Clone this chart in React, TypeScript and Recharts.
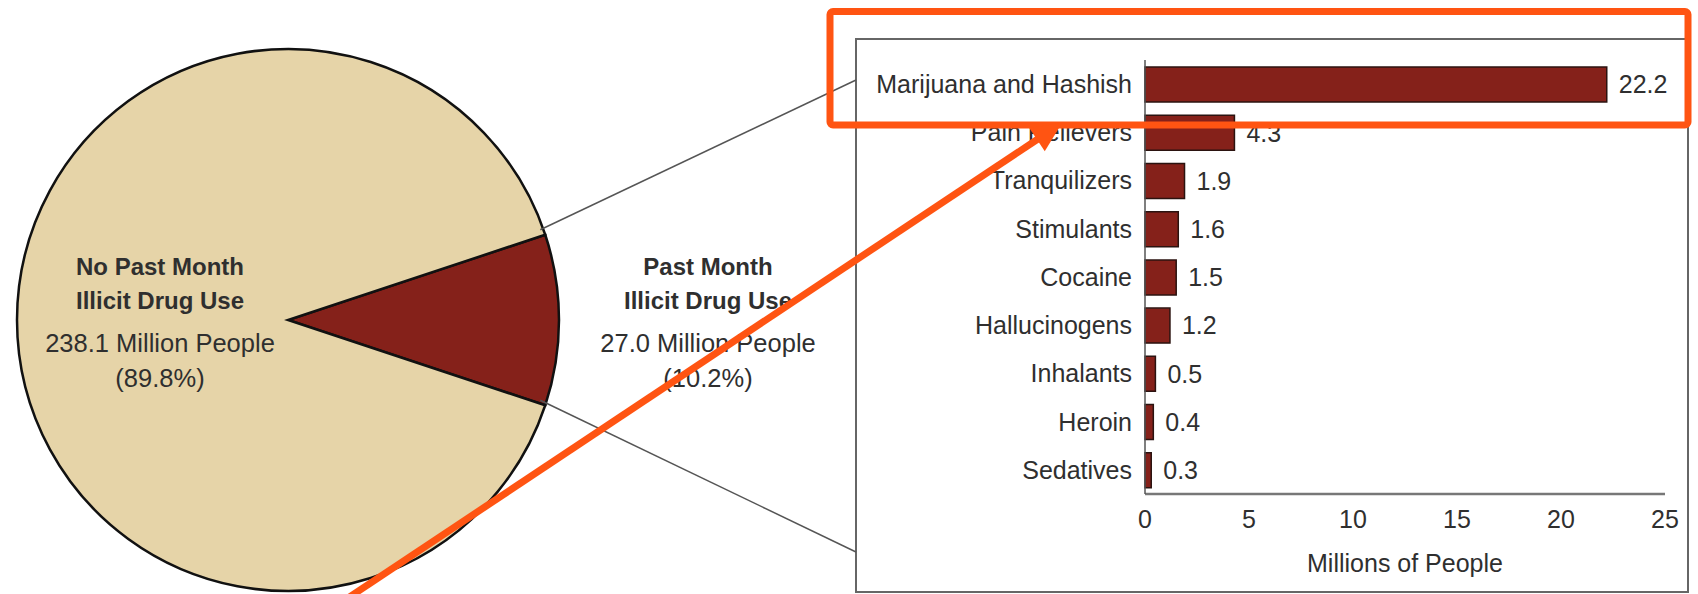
import { PieChart, Pie, Cell, BarChart, Bar, XAxis, YAxis, LabelList } from "recharts";

const pieNames = ["Past Month Illicit Drug Use", "No Past Month Illicit Drug Use"];
const pieTitleLines = [
  ["Past Month", "Illicit Drug Use"],
  ["No Past Month", "Illicit Drug Use"],
];
const pieValues = [27.0, 238.1];
const pieColors = ["#85211a", "#e6d4a8"];

const drugs = [
  "Marijuana and Hashish",
  "Pain Relievers",
  "Tranquilizers",
  "Stimulants",
  "Cocaine",
  "Hallucinogens",
  "Inhalants",
  "Heroin",
  "Sedatives",
];
const drugUsers = [22.2, 4.3, 1.9, 1.6, 1.5, 1.2, 0.5, 0.4, 0.3];
const xTicks = [0, 5, 10, 15, 20, 25];

const FONT = "'Liberation Sans', Arial, sans-serif";
const TEXT = "#2f2f2f";
const ORANGE = "#ff5412";
const FS = 25;

const PIE_CX = 283;
const PIE_CY = 315;
const PIE_R = 271;

const pieData = pieNames.map((name, i) => ({ name, value: pieValues[i] }));
const barData = drugs.map((name, i) => ({ name, value: drugUsers[i] }));

const total = pieValues.reduce((a, b) => a + b, 0);
const halfSlice = ((pieValues[0] / total) * 360) / 2;

function renderPieLabel(props: any) {
  const { cx, cy, midAngle, index, value, percent } = props;
  const r = index === 0 ? 420 : 128;
  const x = cx + r * Math.cos((-midAngle * Math.PI) / 180);
  const lines = pieTitleLines[index];
  return (
    <g>
      <text x={x} y={cy - 45} textAnchor="middle" fontSize={24} fontWeight="bold" fill={TEXT}>
        {lines[0]}
      </text>
      <text x={x} y={cy - 11} textAnchor="middle" fontSize={24} fontWeight="bold" fill={TEXT}>
        {lines[1]}
      </text>
      <text x={x} y={cy + 32} textAnchor="middle" fontSize={25.5} fill={TEXT}>
        {`${value.toFixed(1)} Million People`}
      </text>
      <text x={x} y={cy + 67} textAnchor="middle" fontSize={25.5} fill={TEXT}>
        {`(${(percent * 100).toFixed(1)}%)`}
      </text>
    </g>
  );
}

export default function App() {
  const rad = (halfSlice * Math.PI) / 180;
  const edgeX = PIE_CX + PIE_R * Math.cos(rad);
  const edgeTopY = PIE_CY - PIE_R * Math.sin(rad);
  const edgeBotY = PIE_CY + PIE_R * Math.sin(rad);

  // orange arrow geometry
  const tip = { x: 1062, y: 123 };
  const tail = { x: 345, y: 600 };
  const len = Math.hypot(tip.x - tail.x, tip.y - tail.y);
  const ux = (tip.x - tail.x) / len;
  const uy = (tip.y - tail.y) / len;
  const base = { x: tip.x - 30 * ux, y: tip.y - 30 * uy };
  const head = `${tip.x},${tip.y} ${base.x - 14 * uy},${base.y + 14 * ux} ${base.x + 14 * uy},${base.y - 14 * ux}`;

  return (
    <div
      style={{
        position: "absolute",
        left: 0,
        top: 0,
        width: 1698,
        height: 594,
        background: "#fff",
        fontFamily: FONT,
        overflow: "hidden",
      }}
    >
      <div style={{ position: "absolute", left: 0, top: 0 }}>
        <PieChart width={850} height={594}>
          <Pie
            data={pieData}
            dataKey="value"
            nameKey="name"
            cx={PIE_CX}
            cy={PIE_CY}
            outerRadius={PIE_R}
            startAngle={halfSlice}
            endAngle={halfSlice - 360}
            stroke="#111"
            strokeWidth={2.5}
            label={renderPieLabel}
            labelLine={false}
            isAnimationActive={false}
          >
            {pieData.map((d, i) => (
              <Cell key={d.name} fill={pieColors[i]} />
            ))}
          </Pie>
        </PieChart>
      </div>

      <div style={{ position: "absolute", left: 856, top: 39 }}>
        <BarChart
          width={832}
          height={555}
          data={barData}
          layout="vertical"
          margin={{ top: 21, right: 23, bottom: 0, left: 0 }}
        >
          <XAxis
            type="number"
            domain={[0, 25]}
            ticks={xTicks}
            height={100}
            tickLine={false}
            axisLine={{ stroke: "#777", strokeWidth: 2.5 }}
            tickMargin={10}
            tick={{ fontSize: FS, fill: TEXT }}
            label={{ value: "Millions of People", position: "insideBottom", offset: 22, fontSize: FS, fill: TEXT }}
          />
          <YAxis
            type="category"
            dataKey="name"
            width={289}
            tickLine={false}
            axisLine={{ stroke: "#555", strokeWidth: 1.5 }}
            tickMargin={7}
            tick={{ fontSize: FS, fill: TEXT }}
            interval={0}
          />
          <Bar dataKey="value" fill="#85211a" stroke="#2b1310" strokeWidth={1.5} barSize={35} isAnimationActive={false}>
            <LabelList dataKey="value" position="right" offset={12} fontSize={FS} fill={TEXT} formatter={(v: any) => Number(v).toFixed(1)} />
          </Bar>
        </BarChart>
      </div>

      <svg
        width={1698}
        height={594}
        style={{ position: "absolute", left: 0, top: 0, pointerEvents: "none" }}
      >
        <rect x={856} y={39} width={832} height={553} fill="none" stroke="#666" strokeWidth={2} />
        <line x1={edgeX} y1={edgeTopY} x2={856} y2={80} stroke="#555" strokeWidth={1.5} />
        <line x1={edgeX} y1={edgeBotY} x2={856} y2={552} stroke="#555" strokeWidth={1.5} />
        <rect x={830} y={11.5} width={858} height={113.5} rx={3} fill="none" stroke={ORANGE} strokeWidth={7} />
        <line x1={tail.x} y1={tail.y} x2={base.x + 2 * ux} y2={base.y + 2 * uy} stroke={ORANGE} strokeWidth={7} />
        <polygon points={head} fill={ORANGE} />
      </svg>
    </div>
  );
}
